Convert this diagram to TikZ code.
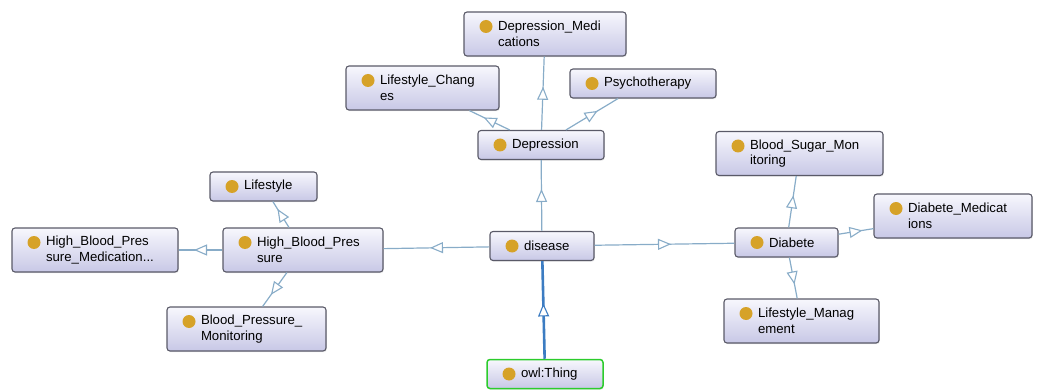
\documentclass[tikz,border=0pt]{standalone}
\usepackage{fontspec}
\setmainfont{Liberation Sans}
\usetikzlibrary{arrows.meta, decorations.markings, calc, shadows}
\definecolor{BoxTop}{RGB}{247,247,253}
\definecolor{BoxBottom}{RGB}{200,200,230}
\definecolor{BoxBorder}{RGB}{90,90,104}
\definecolor{DotColor}{RGB}{214,162,40}
\definecolor{EdgeColor}{RGB}{136,172,200}
\definecolor{RootEdge}{RGB}{60,124,194}
\definecolor{RootBorder}{RGB}{44,204,44}

\begin{document}
\begin{tikzpicture}[x=1pt, y=-1pt,
    cls/.style={draw=BoxBorder, line width=1.1pt, rounded corners=3pt,
        top color=BoxTop, bottom color=BoxBottom,
        drop shadow={opacity=0.18, shadow xshift=0.8pt, shadow yshift=-1.2pt},
        text width=#1-12pt, inner xsep=6pt, inner ysep=2pt, minimum height=29pt,
        align=left, font=\fontsize{13.2}{15.5}\selectfont,
        execute at begin node={\leftskip=28pt},
        path picture={\fill[DotColor] ($(path picture bounding box.north west)+(22,14.5)$) circle (6.5);}},
    tall/.style={minimum height=44pt},
    root/.style={cls=#1, draw=RootBorder, line width=1.5pt},
    isa/.style={draw=#1, line width=1.2pt, postaction={decorate},
        decoration={markings, mark=at position 0.5 with
            {\arrow[xshift=6.5pt]{Triangle[length=13pt, width=11pt, color=#1, fill=white, line width=1.1pt]}}}},
    isa/.default=EdgeColor
]
    \useasboundingbox (0,0) rectangle (1040,390);

    % top class and its direct subclass
    \node[root=116] (owl) at (545,374) {owl:Thing};
    \node[cls=104] (dis) at (542,246) {disease};

    % depression branch
    \node[cls=126] (dep) at (541,145) {Depression};
    \node[cls=162, tall] (dmed) at (545,34) {Depression\_Medi\\cations};
    \node[cls=153, tall] (lchg) at (422.5,88) {Lifestyle\_Chang\\es};
    \node[cls=146] (psy) at (643,83.5) {Psychotherapy};

    % blood pressure branch
    \node[cls=160, tall] (hbp) at (303,250) {High\_Blood\_Pres\\sure};
    \node[cls=107] (life) at (263.5,186.5) {Lifestyle};
    \node[cls=166, tall] (hbpm) at (95,250) {High\_Blood\_Pres\\sure\_Medication...};
    \node[cls=159, tall] (bpm) at (246.5,329) {Blood\_Pressure\_\\Monitoring};

    % diabetes branch
    \node[cls=103] (diab) at (786.5,242.5) {Diabete};
    \node[cls=167, tall] (bsm) at (799.5,153.5) {Blood\_Sugar\_Mon\\itoring};
    \node[cls=158, tall] (diabm) at (953,216) {Diabete\_Medicat\\ions};
    \node[cls=155, tall] (lman) at (801.5,321) {Lifestyle\_Manag\\ement};

    \draw[isa=RootEdge, line width=2.6pt] (owl) -- (dis);
    \draw[isa] (dis) -- (dep);
    \draw[isa] (dis) -- (hbp);
    \draw[isa] (dis) -- (diab);
    \draw[isa] (dep) -- (dmed);
    \draw[isa] (dep) -- (lchg);
    \draw[isa] (dep) -- (psy);
    \draw[isa] (hbp) -- (life);
    \draw[isa] (hbp) -- (hbpm);
    \draw[isa] (hbp) -- (bpm);
    \draw[isa] (diab) -- (bsm);
    \draw[isa] (diab) -- (diabm);
    \draw[isa] (diab) -- (lman);
\end{tikzpicture}
\end{document}
